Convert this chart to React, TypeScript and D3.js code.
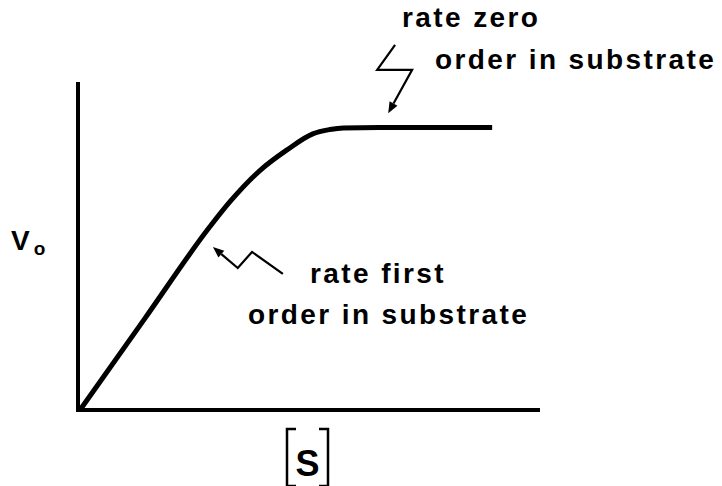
import React from "react";
import * as d3 from "d3";

// substrate concentration [S] vs initial rate V0 (arbitrary units)
const substrate = [0, 14, 28.3, 32.6, 39.1, 45, 50.6, 54.3, 57.2, 65, 89.6];
const rate = [0, 27.7, 56, 63.5, 73, 79.3, 84.2, 85.5, 86, 86.1, 86.1];

const labelZero = ["rate zero", "order in substrate"];
const labelFirst = ["rate first", "order in substrate"];

// zig-zag pointers, in data units
const arrowZero: [number, number][] = [[68.5, 111.3], [64.6, 103.7], [72.2, 103.7], [67.0, 90.5]];
const arrowFirst: [number, number][] = [[44.1, 41.5], [37.4, 48.2], [34.3, 43.3], [28.9, 49.7]];

const W = 722;
const H = 486;
const font = "'Liberation Sans', Arial, sans-serif";

const x = d3.scaleLinear().domain([0, 100]).range([80, 540]);
const y = d3.scaleLinear().domain([0, 100]).range([410, 82]);

const Arrow = ({ pts }: { pts: [number, number][] }) => {
  const p = pts.map(([a, b]) => [x(a), y(b)] as [number, number]);
  const [tx, ty] = p[p.length - 1];
  const [px, py] = p[p.length - 2];
  const ang = Math.atan2(ty - py, tx - px);
  const len = 11;
  const wid = 4.5;
  const bx = tx - len * Math.cos(ang);
  const by = ty - len * Math.sin(ang);
  const head = [
    [tx, ty],
    [bx + wid * Math.sin(ang), by - wid * Math.cos(ang)],
    [bx - wid * Math.sin(ang), by + wid * Math.cos(ang)],
  ];
  const shaft = p.slice(0, -1).concat([[bx, by]]);
  return (
    <g>
      <path d={d3.line()(shaft) ?? ""} fill="none" stroke="#000" strokeWidth={2.2} strokeLinejoin="miter" />
      <path d={(d3.line()(head as [number, number][]) ?? "") + "Z"} fill="#000" />
    </g>
  );
};

export default function App() {
  const pts = substrate.map((s, i) => [x(s), y(rate[i])] as [number, number]);
  const curve = d3.line().curve(d3.curveMonotoneX)(pts) ?? "";
  const textStyle = { fontFamily: font, fontWeight: 700, fontSize: 28, letterSpacing: 2.4 };

  return (
    <svg width={W} height={H} style={{ position: "absolute", left: 0, top: 0, background: "#fff" }}>
      {/* axes */}
      <line x1={x(0) - 2} y1={y(100)} x2={x(0) - 2} y2={y(0) + 2} stroke="#000" strokeWidth={4} />
      <line x1={x(0) - 4} y1={y(0)} x2={x(100)} y2={y(0)} stroke="#000" strokeWidth={4} />

      <path d={curve} fill="none" stroke="#000" strokeWidth={5} strokeLinecap="butt" />

      <Arrow pts={arrowZero} />
      <Arrow pts={arrowFirst} />

      <text x={402} y={27} style={textStyle}>{labelZero[0]}</text>
      <text x={435} y={69} style={textStyle}>{labelZero[1]}</text>
      <text x={310} y={283} style={textStyle}>{labelFirst[0]}</text>
      <text x={248} y={324} style={textStyle}>{labelFirst[1]}</text>

      {/* y label */}
      <text x={11} y={250} style={{ fontFamily: font, fontWeight: 700, fontSize: 28 }}>
        V<tspan fontSize={19} dx={4} dy={5}>o</tspan>
      </text>

      {/* x label [S] */}
      <path d="M296,429 H287 V486 H296" fill="none" stroke="#000" strokeWidth={2.5} />
      <path d="M319,429 H328 V486 H319" fill="none" stroke="#000" strokeWidth={2.5} />
      <text x={307.5} y={476} textAnchor="middle" style={{ fontFamily: font, fontWeight: 700, fontSize: 36 }}>S</text>
    </svg>
  );
}
